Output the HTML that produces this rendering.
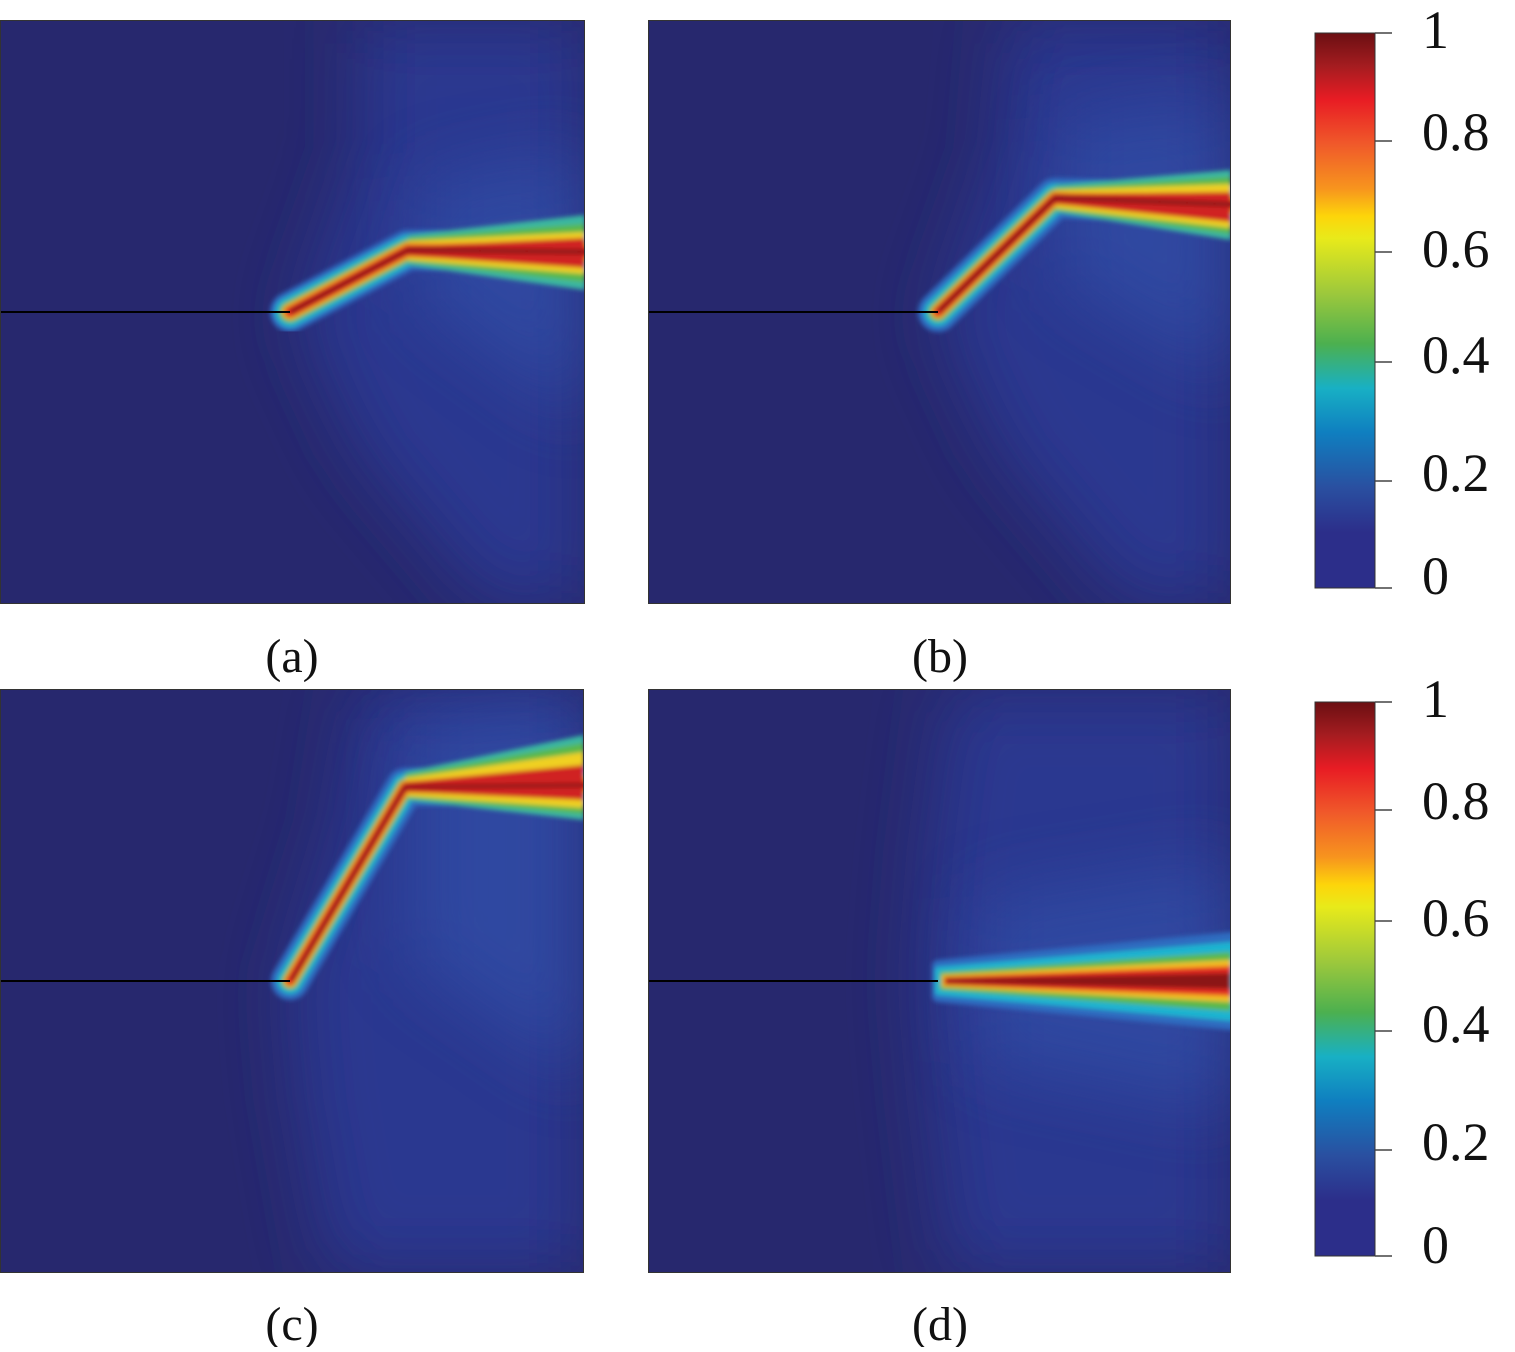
<!DOCTYPE html><html><head><style>body{margin:0;background:#fff}</style></head><body>
<svg width="1515" height="1347" xmlns="http://www.w3.org/2000/svg" font-family="Liberation Serif, serif">
<defs>
<filter id="b" x="-20%" y="-20%" width="140%" height="140%"><feGaussianBlur stdDeviation="2.5"/></filter>
<filter id="bb" x="-50%" y="-50%" width="200%" height="200%"><feGaussianBlur stdDeviation="35"/></filter>
<linearGradient id="cb" x1="0" y1="0" x2="0" y2="1">
<stop offset="0" stop-color="#6b0f12"/><stop offset="0.06" stop-color="#a51c20"/><stop offset="0.12" stop-color="#e81c24"/><stop offset="0.2" stop-color="#f0592a"/><stop offset="0.28" stop-color="#f7941e"/><stop offset="0.33" stop-color="#fdd50a"/><stop offset="0.37" stop-color="#e8ea1a"/><stop offset="0.47" stop-color="#9cc83c"/><stop offset="0.56" stop-color="#4cb04f"/><stop offset="0.64" stop-color="#18b0c4"/><stop offset="0.72" stop-color="#0f7fc0"/><stop offset="0.82" stop-color="#2a4fa0"/><stop offset="0.9" stop-color="#2c2e8a"/><stop offset="1" stop-color="#2c2e8a"/>
</linearGradient>
<clipPath id="ca"><rect x="0" y="20" width="585" height="584"/></clipPath>
<clipPath id="cbp"><rect x="648" y="20" width="583" height="584"/></clipPath>
<clipPath id="cc"><rect x="0" y="689" width="584" height="584"/></clipPath>
<clipPath id="cd"><rect x="648" y="689" width="583" height="584"/></clipPath>
</defs>

<!-- panel a -->
<g clip-path="url(#ca)">
<rect x="0" y="20" width="585" height="584" fill="#27286e"/>
<path d="M360 20 L585 20 L585 604 L490 604 L360 450 L300 320 L360 150Z" fill="#2a3890" filter="url(#bb)"/>
<path d="M420 180 L585 150 L585 420 L420 300Z" fill="#3050a8" opacity="0.7" filter="url(#bb)"/>
<g filter="url(#b)" fill="none" stroke-linecap="round" stroke-linejoin="round">
<polyline points="290,312 408,250 600,252" stroke="#2f6cc0" stroke-width="40"/>
<polyline points="290,312 408,250 600,252" stroke="#1bb4d0" stroke-width="30"/>
<polygon points="408,235 585,215 585,290 408,265" fill="#3ab7a0"/>
<polyline points="290,312 408,250 600,252" stroke="#5ab84a" stroke-width="22"/>
<polygon points="408,238 585,224 585,282 408,262" fill="#5ab84a"/>
<polygon points="408,241 585,232 585,274 408,260" fill="#f0d020"/>
<polyline points="290,312 408,250 600,252" stroke="#f5b020" stroke-width="16"/>
<polyline points="290,312 408,250 600,252" stroke="#e32a22" stroke-width="11"/>
<polygon points="408,246 585,238 585,268 408,256" fill="#d02020"/>
<polyline points="292,311 408,250 600,252" stroke="#8b1414" stroke-width="5"/>
</g>
<line x1="0" y1="312" x2="290" y2="312" stroke="#000" stroke-width="2"/>
</g>
<rect x="0.5" y="20.5" width="584" height="583" fill="none" stroke="#333" stroke-width="1"/>

<!-- panel b -->
<g clip-path="url(#cbp)">
<rect x="648" y="20" width="583" height="584" fill="#27286e"/>
<path d="M1010 20 L1231 20 L1231 604 L1130 604 L1000 450 L940 320 L1000 150Z" fill="#2a3890" filter="url(#bb)"/>
<path d="M1060 120 L1231 100 L1231 380 L1060 280Z" fill="#3050a8" opacity="0.7" filter="url(#bb)"/>
<g filter="url(#b)" fill="none" stroke-linecap="round" stroke-linejoin="round">
<polyline points="938,312 1055,198 1250,205" stroke="#2f6cc0" stroke-width="40"/>
<polyline points="938,312 1055,198 1250,205" stroke="#1bb4d0" stroke-width="28"/>
<polygon points="1055,185 1231,170 1231,240 1055,212" fill="#3ab7a0"/>
<polyline points="938,312 1055,198 1250,205" stroke="#5ab84a" stroke-width="20"/>
<polygon points="1055,188 1231,177 1231,234 1055,210" fill="#5ab84a"/>
<polygon points="1055,190 1231,184 1231,228 1055,208" fill="#f0d020"/>
<polyline points="938,312 1055,198 1250,205" stroke="#f5b020" stroke-width="14"/>
<polyline points="938,312 1055,198 1250,205" stroke="#e32a22" stroke-width="10"/>
<polygon points="1055,194 1231,192 1231,222 1055,204" fill="#d02020"/>
<polyline points="940,310 1055,198 1250,205" stroke="#8b1414" stroke-width="5"/>
</g>
<line x1="648" y1="312" x2="938" y2="312" stroke="#000" stroke-width="2"/>
</g>
<rect x="648.5" y="20.5" width="582" height="583" fill="none" stroke="#333" stroke-width="1"/>

<!-- panel c -->
<g clip-path="url(#cc)">
<rect x="0" y="689" width="584" height="584" fill="#27286e"/>
<path d="M360 689 L584 689 L584 1273 L330 1273 L300 1100 L290 981 L340 820Z" fill="#2a3890" filter="url(#bb)"/>
<path d="M410 720 L584 700 L584 1080 L410 960Z" fill="#3050a8" opacity="0.7" filter="url(#bb)"/>
<g filter="url(#b)" fill="none" stroke-linecap="round" stroke-linejoin="round">
<polyline points="290,981 405,787 600,785" stroke="#2f6cc0" stroke-width="38"/>
<polyline points="290,981 405,787 600,785" stroke="#1bb4d0" stroke-width="26"/>
<polygon points="405,772 584,735 584,820 405,800" fill="#3ab7a0"/>
<polyline points="290,981 405,787 600,785" stroke="#5ab84a" stroke-width="18"/>
<polygon points="405,775 584,743 584,814 405,798" fill="#5ab84a"/>
<polygon points="405,778 584,752 584,808 405,796" fill="#f0d020"/>
<polyline points="290,981 405,787 600,785" stroke="#f5b020" stroke-width="13"/>
<polyline points="290,981 405,787 600,785" stroke="#e32a22" stroke-width="9"/>
<polygon points="405,782 584,765 584,800 405,792" fill="#d02020"/>
<polyline points="292,979 405,787 600,785" stroke="#8b1414" stroke-width="4"/>
</g>
<line x1="0" y1="981" x2="290" y2="981" stroke="#000" stroke-width="2"/>
</g>
<rect x="0.5" y="689.5" width="583" height="583" fill="none" stroke="#333" stroke-width="1"/>

<!-- panel d -->
<g clip-path="url(#cd)">
<rect x="648" y="689" width="583" height="584" fill="#27286e"/>
<path d="M950 689 L1231 689 L1231 1273 L950 1273 L930 1100 L920 981 L930 850Z" fill="#2a3890" filter="url(#bb)"/>
<path d="M980 900 L1231 860 L1231 1110 L980 1060Z" fill="#3050a8" opacity="0.7" filter="url(#bb)"/>
<g filter="url(#b)" fill="none" stroke-linecap="round" stroke-linejoin="round">
<polygon points="938,966 1231,938 1231,1024 938,996" fill="#2f6cc0" stroke="#2f6cc0" stroke-width="12"/>
<polygon points="938,970 1231,945 1231,1018 938,992" fill="#1bb4d0" stroke="#1bb4d0" stroke-width="6"/>
<polygon points="940,972 1231,952 1231,1011 940,990" fill="#5ab84a"/>
<polygon points="942,975 1231,960 1231,1002 942,987" fill="#f5c020"/>
<polygon points="944,977 1231,966 1231,996 944,985" fill="#e32a22"/>
<polygon points="946,979 1231,973 1231,989 946,983" fill="#8b1414"/>
</g>
<line x1="648" y1="981" x2="938" y2="981" stroke="#000" stroke-width="2"/>
</g>
<rect x="648.5" y="689.5" width="582" height="583" fill="none" stroke="#333" stroke-width="1"/>

<!-- colorbars -->
<g font-size="54" fill="#111">
<rect x="1315" y="33" width="60" height="555" fill="url(#cb)" stroke="#333" stroke-width="1"/>
<g stroke="#444" stroke-width="1.5">
<line x1="1375" y1="33" x2="1392" y2="33"/><line x1="1375" y1="141" x2="1392" y2="141"/><line x1="1375" y1="252" x2="1392" y2="252"/><line x1="1375" y1="362" x2="1392" y2="362"/><line x1="1375" y1="481" x2="1392" y2="481"/><line x1="1375" y1="588" x2="1392" y2="588"/>
</g>
<text x="1422" y="48">1</text><text x="1422" y="150">0.8</text><text x="1422" y="267">0.6</text><text x="1422" y="373">0.4</text><text x="1422" y="491">0.2</text><text x="1422" y="594">0</text>

<rect x="1315" y="702" width="60" height="554" fill="url(#cb)" stroke="#333" stroke-width="1"/>
<g stroke="#444" stroke-width="1.5">
<line x1="1375" y1="702" x2="1392" y2="702"/><line x1="1375" y1="810" x2="1392" y2="810"/><line x1="1375" y1="921" x2="1392" y2="921"/><line x1="1375" y1="1031" x2="1392" y2="1031"/><line x1="1375" y1="1150" x2="1392" y2="1150"/><line x1="1375" y1="1256" x2="1392" y2="1256"/>
</g>
<text x="1422" y="717">1</text><text x="1422" y="819">0.8</text><text x="1422" y="936">0.6</text><text x="1422" y="1042">0.4</text><text x="1422" y="1160">0.2</text><text x="1422" y="1263">0</text>
</g>
<g font-size="48" fill="#111">
<text x="292" y="672" text-anchor="middle">(a)</text>
<text x="940" y="672" text-anchor="middle">(b)</text>
<text x="292" y="1340" text-anchor="middle">(c)</text>
<text x="940" y="1340" text-anchor="middle">(d)</text>
</g>
</svg>
</body></html>
